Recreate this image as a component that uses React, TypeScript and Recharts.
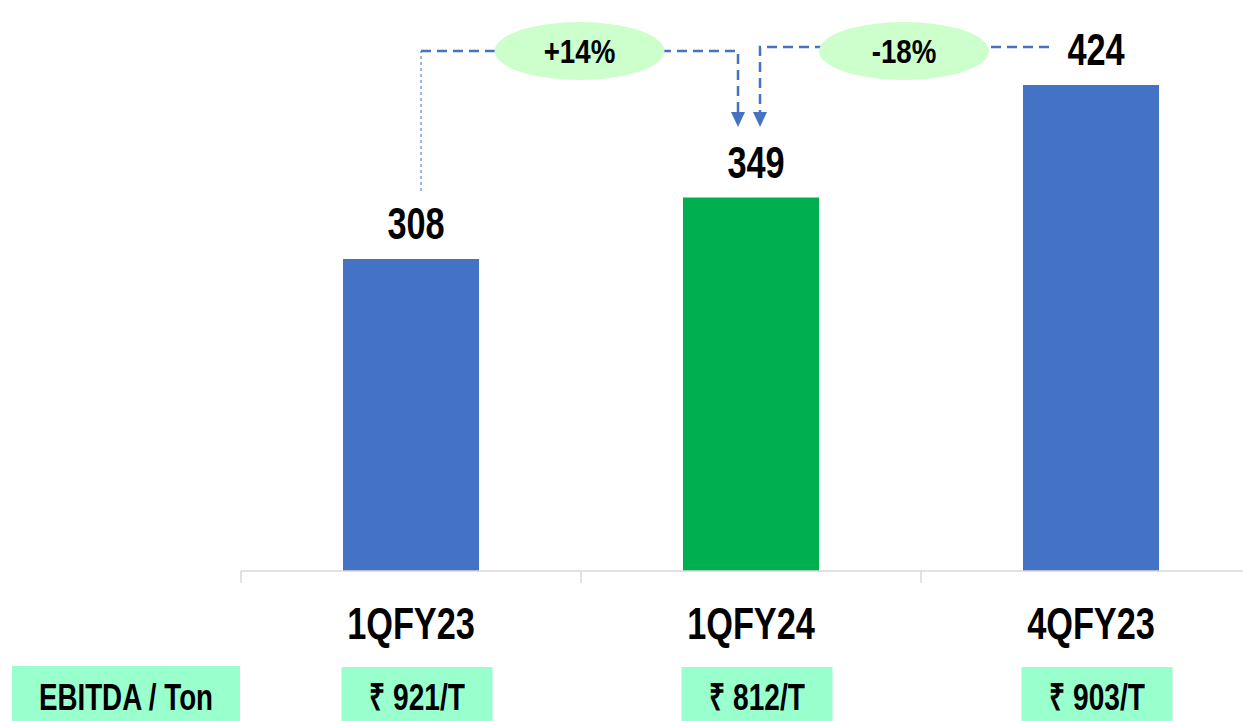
import React from 'react';
import { BarChart, Bar, XAxis, YAxis, Cell, LabelList } from 'recharts';

const categories = ['1QFY23', '1QFY24', '4QFY23'];
const ebitdaValues = [308, 349, 424];
const ebitdaPerTon = [921, 812, 903];
const barColors = ['#4472C4', '#00B050', '#4472C4'];
const changeLabels = ['+14%', '-18%'];
const rowLabel = 'EBITDA / Ton';

const data = categories.map((name, i) => ({
  name,
  value: ebitdaValues[i],
  perTon: ebitdaPerTon[i],
}));

const FONT = "'Liberation Sans', Arial, sans-serif";

// layout of the plot, shared with the annotation overlay
const W = 1243;
const H = 721;
const PLOT_LEFT = 241;
const PLOT_TOP = 46;
const BAND = 340;
const PLOT_BOTTOM = 571;
const Y_MIN = 100;
const Y_MAX = 450;

const xc = (i: number) => PLOT_LEFT + BAND * (i + 0.5);
const yv = (v: number) => PLOT_BOTTOM - ((v - Y_MIN) * (PLOT_BOTTOM - PLOT_TOP)) / (Y_MAX - Y_MIN);

// bold text squeezed horizontally, like Arial Narrow
function NarrowText({ x, y, size, sx = 0.78, children }: any) {
  return (
    <g transform={`translate(${x},${y}) scale(${sx},1)`}>
      <text x={0} y={0} textAnchor="middle" fontSize={size} fontWeight="bold" fontFamily={FONT} fill="#000">
        {children}
      </text>
    </g>
  );
}

function CategoryTick(props: any) {
  const { x, y, payload } = props;
  const half = payload.offset ?? BAND / 2;
  const row = data.find((d) => d.name === payload.value);
  return (
    <g>
      <line x1={x - half} x2={x - half} y1={y} y2={y + 12} stroke="#D9D9D9" strokeWidth={1.5} />
      <NarrowText x={x} y={y + 68} size={44}>
        {payload.value}
      </NarrowText>
      <rect x={x + 6 - 75.5} y={y + 96} width={151} height={60} fill="#99FFCC" />
      <NarrowText x={x + 6} y={y + 139} size={37} sx={0.76}>
        {row ? `₹ ${row.perTon}/T` : ''}
      </NarrowText>
    </g>
  );
}

function ValueLabel(props: any) {
  const { x, y, width, value } = props;
  return (
    <NarrowText x={x + width / 2 + 5} y={y - 20} size={44}>
      {value}
    </NarrowText>
  );
}

function Annotations() {
  const blue = '#4472C4';
  const lineY1 = 51;
  const lineY2 = 47;
  const tipY = 127;
  const baseY = 112;
  const a1 = xc(1) - 13;
  const a2 = xc(1) + 9;
  const start = xc(0) + 10;
  const end2 = xc(2) - 42;
  const e1 = (start + a1) / 2;
  const e2 = 904;
  const arrow = (x: number) => `${x - 7},${baseY} ${x + 7},${baseY} ${x},${tipY}`;
  return (
    <svg width={W} height={H} style={{ position: 'absolute', left: 0, top: 0, pointerEvents: 'none' }}>
      <line x1={start} x2={start} y1={yv(ebitdaValues[0]) - 68} y2={lineY1} stroke="#7F9FD8" strokeWidth={1.5} strokeDasharray="3 3" />
      <polyline points={`${start},${lineY1} ${a1},${lineY1} ${a1},${baseY}`} fill="none" stroke={blue} strokeWidth={2.5} strokeDasharray="10 6" />
      <polyline points={`${end2},${lineY2} ${a2},${lineY2} ${a2},${baseY}`} fill="none" stroke={blue} strokeWidth={2.5} strokeDasharray="10 6" />
      <polygon points={arrow(a1)} fill={blue} />
      <polygon points={arrow(a2)} fill={blue} />
      <ellipse cx={e1} cy={51} rx={85} ry={29} fill="#CCFFCC" />
      <ellipse cx={e2} cy={51} rx={85} ry={29} fill="#CCFFCC" />
      <NarrowText x={e1} y={63} size={33} sx={0.84}>
        {changeLabels[0]}
      </NarrowText>
      <NarrowText x={e2} y={63} size={33} sx={0.84}>
        {changeLabels[1]}
      </NarrowText>
      <rect x={12} y={666} width={228} height={60} fill="#99FFCC" />
      <NarrowText x={126} y={710} size={37} sx={0.75}>
        {rowLabel}
      </NarrowText>
    </svg>
  );
}

export default function App() {
  return (
    <div style={{ position: 'absolute', left: 0, top: 0, width: W, height: H, overflow: 'hidden', background: '#fff' }}>
      <BarChart
        width={PLOT_LEFT + BAND * categories.length}
        height={H}
        data={data}
        margin={{ top: PLOT_TOP, right: 0, left: PLOT_LEFT, bottom: 0 }}
      >
        <XAxis
          dataKey="name"
          height={H - PLOT_BOTTOM}
          axisLine={{ stroke: '#D9D9D9', strokeWidth: 1.5 }}
          tickLine={false}
          tickSize={0}
          tickMargin={0}
          interval={0}
          tick={<CategoryTick />}
        />
        <YAxis hide domain={[Y_MIN, Y_MAX]} allowDataOverflow />
        <Bar dataKey="value" barSize={136} isAnimationActive={false}>
          {data.map((d, i) => (
            <Cell key={d.name} fill={barColors[i]} />
          ))}
          <LabelList dataKey="value" content={<ValueLabel />} />
        </Bar>
      </BarChart>
      <Annotations />
    </div>
  );
}
